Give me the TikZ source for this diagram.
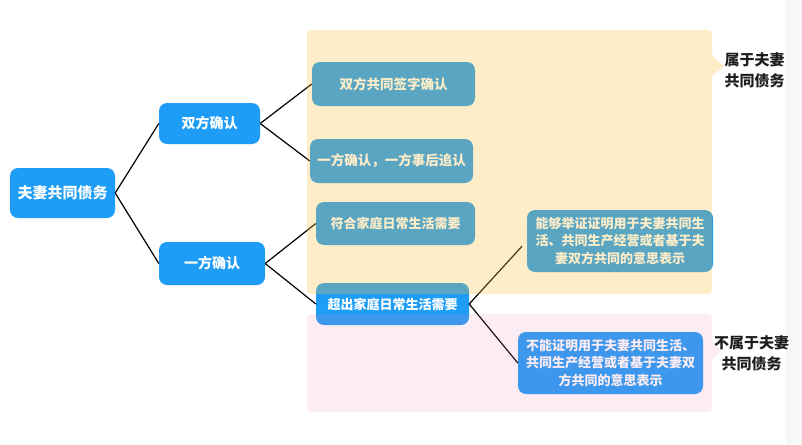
\documentclass[tikz,border=0pt]{standalone}
\usepackage{fontspec}
\setmainfont{Noto Sans CJK SC}
\newfontfamily\cjk{Noto Sans CJK SC}
\definecolor{nodeblue}{RGB}{30,157,247}
\definecolor{ovyellow}{RGB}{248,191,58}
\definecolor{ovpink}{RGB}{240,130,180}
\definecolor{labelgray}{RGB}{30,30,30}
\definecolor{stripgray}{RGB}{247,247,247}
\tikzset{
  box/.style={rectangle, rounded corners=8pt, fill=nodeblue, text=white,
    inner sep=0pt, align=center, font=\cjk\bfseries},
  link/.style={draw=black, line width=1.2pt},
  calltext/.style={text=labelgray, align=center, inner sep=0pt,
    font=\cjk\bfseries\fontsize{15}{21}\selectfont},
}
\begin{document}
\begin{tikzpicture}[x=1pt,y=-1pt]
\useasboundingbox (0,0) rectangle (802,444);
\fill[white] (0,0) rectangle (802,444);
\fill[stripgray] (786,0) rectangle (802,444);

% nodes
\node[box, minimum width=105pt, minimum height=50pt, font=\cjk\bfseries\fontsize{15}{18}\selectfont] (root) at (62.5,193) {夫妻共同债务};
\node[box, minimum width=101pt, minimum height=41pt, font=\cjk\bfseries\fontsize{14}{17}\selectfont] (sf) at (209.5,123.5) {双方确认};
\node[box, minimum width=106pt, minimum height=43pt, font=\cjk\bfseries\fontsize{14}{17}\selectfont] (yf) at (212,263.5) {一方确认};
\node[box, minimum width=163pt, minimum height=44pt, font=\cjk\bfseries\fontsize{13.5}{17}\selectfont] (a1) at (393.5,84) {双方共同签字确认};
\node[box, minimum width=163pt, minimum height=44pt, font=\cjk\bfseries\fontsize{13.5}{17}\selectfont] (a2) at (391.5,161) {一方确认，一方事后追认};
\node[box, minimum width=159pt, minimum height=43pt, font=\cjk\bfseries\fontsize{13}{17}\selectfont] (b1) at (395.5,223.5) {符合家庭日常生活需要};
\node[box, minimum width=153pt, minimum height=42pt, font=\cjk\bfseries\fontsize{13}{17}\selectfont] (b2) at (392.5,304) {超出家庭日常生活需要};
\node[box, minimum width=186pt, minimum height=62pt, font=\cjk\bfseries\fontsize{13}{17.5}\selectfont] (c1) at (620,241) {能够举证证明用于夫妻共同生\\活、共同生产经营或者基于夫\\妻双方共同的意思表示};
\node[box, minimum width=185pt, minimum height=62pt, font=\cjk\bfseries\fontsize{13}{17.5}\selectfont] (c2) at (610.5,363) {不能证明用于夫妻共同生活、\\共同生产经营或者基于夫妻双\\方共同的意思表示};

% connectors
\draw[link] (root.east) -- (sf.west);
\draw[link] (root.east) -- (yf.west);
\draw[link] (sf.east) -- (a1.west);
\draw[link] (sf.east) -- (a2.west);
\draw[link] (yf.east) -- (b1.west);
\draw[link] (yf.east) -- (b2.west);
\draw[link, shorten >=7pt] (b2.east) -- (c1.west);
\draw[link] (b2.east) -- (c2.west);

% overlays (callouts)
\fill[ovyellow, opacity=0.28, rounded corners=4pt]
  (307,30) -- (712,30) -- (712,56) [sharp corners] -- (724,66) -- (712,76) [rounded corners=4pt] -- (712,294) -- (307,294) -- cycle;
\fill[ovpink, opacity=0.15, rounded corners=4pt]
  (307,314) -- (712,314) -- (712,342) [sharp corners] -- (721,351) -- (712,360) [rounded corners=4pt] -- (712,412) -- (307,412) -- cycle;

% callout labels
\node[calltext] (lab1) at (754.5,70) {属于夫妻\\共同债务};
\node[calltext] (lab2) at (751.5,353.5) {不属于夫妻\\共同债务};
\end{tikzpicture}
\end{document}
